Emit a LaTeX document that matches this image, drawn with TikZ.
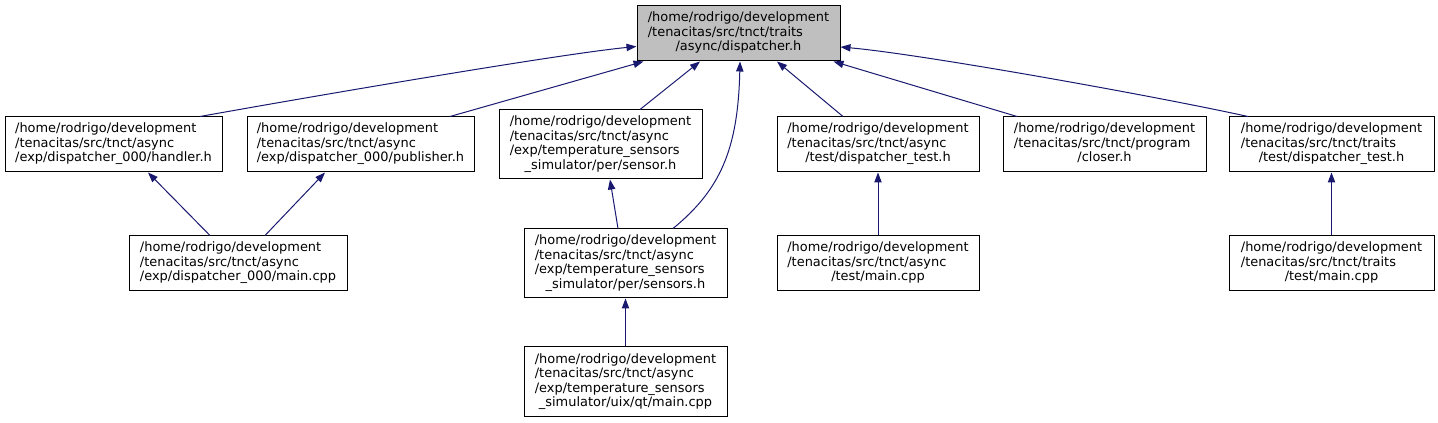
\documentclass[tikz,border=0pt]{standalone}
\usepackage{fontspec}
\setmainfont{DejaVu Sans}
\usetikzlibrary{arrows.meta,calc}

\definecolor{edgeblue}{HTML}{191970}
\definecolor{rootgray}{HTML}{BFBFBF}

\newlength{\pxu}
\setlength{\pxu}{0.75pt}
% lines left aligned, last line centred
\newcommand{\flines}[2]{\begin{tabular}{@{}l@{}}#1\\\multicolumn{1}{@{}c@{}}{#2}\end{tabular}}

\tikzset{
  file/.style={draw=black, fill=white, line width=0.75pt, inner sep=0pt,
    minimum height=55\pxu, font=\fontsize{9.7}{10.9}\selectfont},
  dep/.style={edgeblue, line width=0.75pt, {Triangle[length=7.5pt,width=5.5pt]}-},
}

\begin{document}
\begin{tikzpicture}[x=0.75pt,y=-0.75pt]
\useasboundingbox (0,0) rectangle (1438,423);

\node[file, fill=rootgray, minimum width=203\pxu] (root) at (738.5,33.5)
  {\flines{/home/rodrigo/development\\/tenacitas/src/tnct/traits}{/async/dispatcher.h}};

\node[file, minimum width=217\pxu] (handler) at (113.5,144.5)
  {\flines{/home/rodrigo/development\\/tenacitas/src/tnct/async}{/exp/dispatcher\_000/handler.h}};
\node[file, minimum width=227\pxu] (publisher) at (360.5,144.5)
  {\flines{/home/rodrigo/development\\/tenacitas/src/tnct/async}{/exp/dispatcher\_000/publisher.h}};
\node[file, minimum width=203\pxu, minimum height=69\pxu] (sensor) at (600.5,144.5)
  {\flines{/home/rodrigo/development\\/tenacitas/src/tnct/async\\/exp/temperature\_sensors}{\_simulator/per/sensor.h}};
\node[file, minimum width=202\pxu] (atest) at (878,144.5)
  {\flines{/home/rodrigo/development\\/tenacitas/src/tnct/async}{/test/dispatcher\_test.h}};
\node[file, minimum width=203\pxu] (closer) at (1104.5,144.5)
  {\flines{/home/rodrigo/development\\/tenacitas/src/tnct/program}{/closer.h}};
\node[file, minimum width=205\pxu] (ttest) at (1331.5,144.5)
  {\flines{/home/rodrigo/development\\/tenacitas/src/tnct/traits}{/test/dispatcher\_test.h}};

\node[file, minimum width=218\pxu] (dmain) at (238,263.5)
  {\flines{/home/rodrigo/development\\/tenacitas/src/tnct/async}{/exp/dispatcher\_000/main.cpp}};
\node[file, minimum width=203\pxu, minimum height=69\pxu] (sensors) at (625.5,263.5)
  {\flines{/home/rodrigo/development\\/tenacitas/src/tnct/async\\/exp/temperature\_sensors}{\_simulator/per/sensors.h}};
\node[file, minimum width=202\pxu] (amain) at (878,263.5)
  {\flines{/home/rodrigo/development\\/tenacitas/src/tnct/async}{/test/main.cpp}};
\node[file, minimum width=205\pxu] (tmain) at (1331.5,263.5)
  {\flines{/home/rodrigo/development\\/tenacitas/src/tnct/traits}{/test/main.cpp}};

\node[file, minimum width=203\pxu, minimum height=70\pxu] (qtmain) at (625.5,382)
  {\flines{/home/rodrigo/development\\/tenacitas/src/tnct/async\\/exp/temperature\_sensors}{\_simulator/uix/qt/main.cpp}};

% includes of dispatcher.h
\draw[dep] ($(root.west)+(0,13)$) .. controls (560,54) and (320,95) .. ($(handler.north)+(86.5,0)$);
\draw[dep] ($(root.south)+(-95,0)$) -- ($(publisher.north)+(89.5,0)$);
\draw[dep] ($(root.south)+(-38.5,0)$) -- ($(sensor.north)+(39.5,0)$);
\draw[dep] ($(root.south)+(1.5,0)$) .. controls (738,150) and (720,190) .. ($(sensors.north)+(47.5,0)$);
\draw[dep] ($(root.south)+(38.5,0)$) -- ($(atest.north)+(-35,0)$);
\draw[dep] ($(root.south)+(95,0)$) -- ($(closer.north)+(-87.5,0)$);
\draw[dep] ($(root.east)+(0,13.5)$) .. controls (920,54) and (1150,95) .. ($(ttest.north)+(-83.5,0)$);

% lower levels
\draw[dep] ($(handler.south)+(34.5,0)$) -- ($(dmain.north)+(-28,0)$);
\draw[dep] ($(publisher.south)+(-35.5,0)$) -- ($(dmain.north)+(27,0)$);
\draw[dep] ($(sensor.south)+(9.5,0)$) -- ($(sensors.north)+(-7.5,0)$);
\draw[dep] (sensors.south) -- (qtmain.north);
\draw[dep] (atest.south) -- (amain.north);
\draw[dep] (ttest.south) -- (tmain.north);
\end{tikzpicture}
\end{document}
